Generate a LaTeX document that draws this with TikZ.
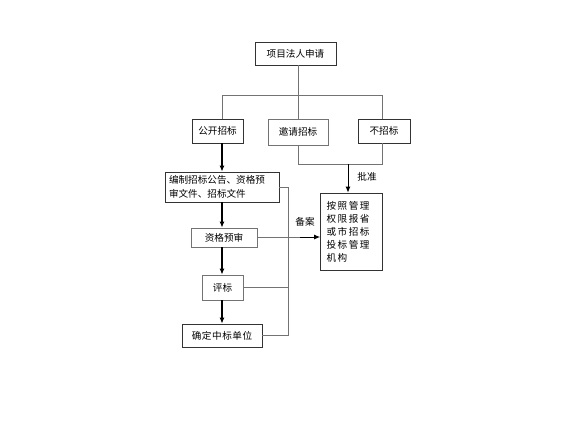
\documentclass[tikz,border=0pt]{standalone}
\usepackage{fontspec}
\newfontfamily\cjk{Noto Sans CJK SC}
\usetikzlibrary{arrows.meta}
\begin{document}
\begin{tikzpicture}[x=1pt,y=-1pt,
  box/.style={draw=black!80,line width=0.7pt,rectangle,inner sep=2pt,font=\cjk\fontsize{9.6pt}{12pt}\selectfont},
  gbox/.style={box,draw=black!55},
  thin/.style={draw=black!55,line width=0.6pt},
  thickarr/.style={draw=black,line width=1.4pt,-{Latex[length=6pt,width=5pt]}},
  arr/.style={draw=black,line width=0.9pt,-{Latex[length=6pt,width=5pt]}},
  lbl/.style={font=\cjk\fontsize{9.6pt}{11pt}\selectfont,inner sep=1pt}]
\useasboundingbox (0,0) rectangle (576,432);
\fill[white] (0,0) rectangle (576,432);
\node[box,minimum width=81pt,minimum height=23pt] (top) at (295.5,53.5) {项目法人申请};
\node[box,minimum width=51pt,minimum height=24pt] (gk) at (217.5,131) {公开招标};
\node[gbox,minimum width=60pt,minimum height=26pt] (yq) at (298,132) {邀请招标};
\node[box,minimum width=52pt,minimum height=24pt] (bz) at (384,131) {不招标};
\node[box,minimum width=114pt,minimum height=30pt,align=left,text width=106pt,inner sep=1pt,font=\cjk\fontsize{9.6pt}{14.5pt}\selectfont] (bj) at (222,187) {编制招标公告、资格预\\审文件、招标文件};
\node[gbox,minimum width=66pt,minimum height=19pt] (zg) at (224,237.5) {资格预审};
\node[box,minimum width=62pt,minimum height=77pt,align=left,text width=50pt,font=\cjk\fontsize{9.6pt}{13pt}\selectfont\addfontfeature{LetterSpace=16}] (az) at (351.5,231.5) {按照管理\\权限报省\\或市招标\\投标管理\\机构};
\node[gbox,minimum width=41pt,minimum height=25pt] (pb) at (222.5,287.5) {评标};
\node[box,minimum width=80pt,minimum height=23pt,font=\cjk\fontsize{9.6pt}{12pt}\selectfont\addfontfeature{LetterSpace=6}] (qd) at (222,335.5) {确定中标单位};
\coordinate (j0) at (298,95);
\coordinate (jl) at (222,95);
\coordinate (jr) at (382,95);
\coordinate (j2l) at (298,164);
\coordinate (j2r) at (382,164);
\coordinate (j2m) at (348,164);
\coordinate (v1) at (288,187);
\coordinate (v2) at (288,287.5);
\coordinate (v3) at (288,335.5);
\draw[thin] (top.south -| j0) -- (j0);
\draw[thin] (jl) -- (jr);
\draw[thin] (jl) -- (jl |- gk.north);
\draw[thin] (j0) -- (j0 |- yq.north);
\draw[thin] (jr) -- (jr |- bz.north);
\draw[thin] (yq.south -| j2l) -- (j2l) -- (j2r) -- (bz.south -| j2r);
\draw[arr] (j2m) -- (j2m |- az.north) node[lbl,pos=0.45,right=8pt] {批准};
\draw[thickarr] (gk.south -| jl) -- (bj.north -| jl);
\draw[thickarr] (bj.south -| jl) -- (zg.north -| jl);
\draw[thickarr] (zg.south -| jl) -- (pb.north -| jl);
\draw[thickarr] (pb.south -| jl) -- (qd.north -| jl);
\draw[thin] (bj.east |- v1) -- (v1) -- (v3) -- (qd.east |- v3);
\draw[thin] (pb.east |- v2) -- (v2);
\coordinate (z1) at (0,237);
\draw[thin] (zg.east |- z1) -- (300,237);
\draw[arr] (300,237) -- (az.west |- z1);
\node[lbl] (ba) at (305,222) {备案};
\end{tikzpicture}
\end{document}
